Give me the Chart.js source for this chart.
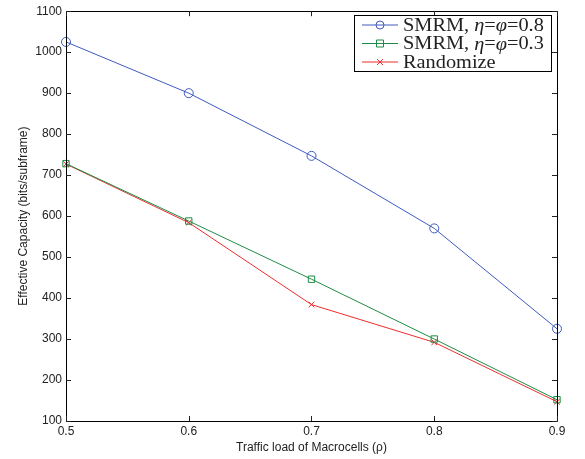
<!DOCTYPE html>
<html><head><meta charset="utf-8">
<script src="https://cdn.jsdelivr.net/npm/chart.js@4/dist/chart.umd.min.js"></script>
<style>html,body{margin:0;padding:0;background:#fff}#wrap{width:585px;height:459px}</style>
</head><body><div id="wrap"><canvas id="c" width="585" height="459"></canvas></div>
<script>
const xValues = [0.5, 0.6, 0.7, 0.8, 0.9];
const smrm08 = [1025, 900, 747, 570, 325];
const smrm03 = [728, 588, 446, 300, 152];
const randomize = [727, 584, 384, 292, 147];
const seriesNames = ['SMRM, \u03B7=\u03C6=0.8', 'SMRM, \u03B7=\u03C6=0.3', 'Randomize'];
const xTicks = [0.5, 0.6, 0.7, 0.8, 0.9];
const yTicks = [100, 200, 300, 400, 500, 600, 700, 800, 900, 1000, 1100];

const BLUE = 'rgb(62,90,190)', GREEN = 'rgb(30,140,70)', RED = 'rgb(240,45,45)';
const pts = arr => arr.map((v, i) => ({x: xValues[i], y: v}));

function drawLabel(ctx, text, x, y) {
  const parts = text.split(/([\u0370-\u03FF])/).filter(s => s.length);
  let cx = x;
  parts.forEach(p => {
    const greek = /[\u0370-\u03FF]/.test(p);
    ctx.font = (greek ? 'italic ' : '') + '19px "Liberation Serif"';
    ctx.fillText(p, cx, y);
    cx += ctx.measureText(p).width;
  });
}

const boxPlugin = {
  id: 'boxTicks',
  afterDraw(chart) {
    const {ctx, chartArea: a, scales: {x, y}} = chart;
    ctx.save();
    ctx.strokeStyle = '#000'; ctx.lineWidth = 1;
    ctx.beginPath();
    ctx.rect(Math.round(a.left) + 0.5, Math.round(a.top) + 0.5, Math.round(a.right - a.left), Math.round(a.bottom - a.top));
    ctx.stroke();
    ctx.strokeStyle = '#222';
    ctx.beginPath();
    const L = 5;
    xTicks.forEach(t => {
      const px = Math.round(x.getPixelForValue(t)) + 0.5;
      ctx.moveTo(px, a.bottom); ctx.lineTo(px, a.bottom - L);
      ctx.moveTo(px, a.top); ctx.lineTo(px, a.top + L);
    });
    yTicks.forEach(t => {
      const py = Math.round(y.getPixelForValue(t)) + 0.5;
      ctx.moveTo(a.left, py); ctx.lineTo(a.left + L, py);
      ctx.moveTo(a.right, py); ctx.lineTo(a.right - L, py);
    });
    ctx.stroke();

    const lx = 354.5, ly = 15.5, lw = 197, lh = 56;
    ctx.fillStyle = '#fff';
    ctx.fillRect(lx, ly, lw, lh);
    ctx.strokeStyle = '#000';
    ctx.strokeRect(lx, ly, lw, lh);
    const rows = [25, 43.5, 62];
    chart.data.datasets.forEach((ds, i) => {
      const yy = rows[i];
      ctx.strokeStyle = ds.borderColor; ctx.lineWidth = 1;
      ctx.beginPath(); ctx.moveTo(362, yy); ctx.lineTo(398, yy); ctx.stroke();
      const cx = 380;
      ctx.beginPath();
      if (ds.pointStyle === 'circle') { ctx.arc(cx, yy, 4, 0, Math.PI * 2); }
      else if (ds.pointStyle === 'rect') { ctx.rect(cx - 3.5, yy - 3.5, 7, 7); }
      else { ctx.moveTo(cx - 3, yy - 3); ctx.lineTo(cx + 3, yy + 3); ctx.moveTo(cx + 3, yy - 3); ctx.lineTo(cx - 3, yy + 3); }
      ctx.stroke();
      ctx.fillStyle = '#222';
      ctx.textBaseline = 'middle'; ctx.textAlign = 'left';
      ctx.save();
      ctx.translate(403, yy + 1);
      ctx.scale(1.07, 1);
      drawLabel(ctx, ds.label, 0, 0);
      ctx.restore();
    });
    ctx.restore();
  }
};

new Chart(document.getElementById('c'), {
  type: 'line',
  data: {
    datasets: [
      {label: seriesNames[0], data: pts(smrm08), borderColor: BLUE, backgroundColor: 'rgba(0,0,0,0)', pointStyle: 'circle', pointRadius: 4.5, pointBorderColor: BLUE, pointBorderWidth: 1, borderWidth: 1, tension: 0},
      {label: seriesNames[1], data: pts(smrm03), borderColor: GREEN, backgroundColor: 'rgba(0,0,0,0)', pointStyle: 'rect', pointRadius: 4.5, pointBorderColor: GREEN, pointBorderWidth: 1, borderWidth: 1, tension: 0},
      {label: seriesNames[2], data: pts(randomize), borderColor: RED, backgroundColor: 'rgba(0,0,0,0)', pointStyle: 'crossRot', pointRadius: 4, pointBorderColor: RED, pointBorderWidth: 1, borderWidth: 1, tension: 0}
    ]
  },
  options: {
    responsive: false, animation: false, devicePixelRatio: 1,
    clip: false,
    layout: {padding: {top: 10, right: 28, left: 16, bottom: 4}},
    plugins: {legend: {display: false}, tooltip: {enabled: false}},
    scales: {
      x: {
        type: 'linear', min: 0.5, max: 0.9,
        afterBuildTicks: s => { s.ticks = xTicks.map(v => ({value: v})); },
        afterFit: s => { s.height = 34; },
        grid: {display: false, drawTicks: false},
        border: {display: false},
        ticks: {color: '#222', padding: 3, font: {family: '"Liberation Sans"', size: 12}, callback: v => v.toFixed(1), maxRotation: 0},
        title: {display: true, text: 'Traffic load of Macrocells (\u03C1)', color: '#222', font: {family: '"Liberation Sans"', size: 12}, padding: {top: 1, bottom: 0}}
      },
      y: {
        type: 'linear', min: 100, max: 1100,
        afterBuildTicks: s => { s.ticks = yTicks.map(v => ({value: v})); },
        afterFit: s => { s.width = 50; },
        grid: {display: false, drawTicks: false},
        border: {display: false},
        ticks: {color: '#222', padding: 4, font: {family: '"Liberation Sans"', size: 12}, callback: v => String(v)},
        title: {display: true, text: 'Effective Capacity (bits/subframe)', color: '#222', font: {family: '"Liberation Sans"', size: 12}, padding: {top: 0, bottom: 2}}
      }
    }
  },
  plugins: [boxPlugin]
});
</script></body></html>
